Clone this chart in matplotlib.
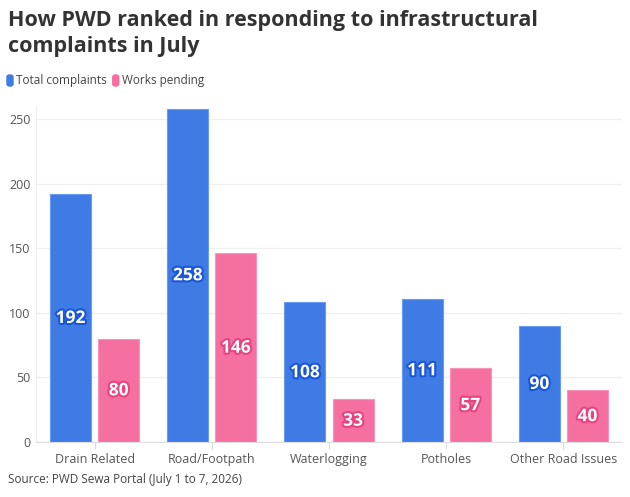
import numpy as np
import matplotlib.pyplot as plt
import matplotlib.patheffects as pe
from matplotlib.patches import FancyBboxPatch

plt.rcParams['font.family'] = ['Open Sans', 'DejaVu Sans']

categories = ["Drain Related", "Road/Footpath", "Waterlogging", "Potholes", "Other Road Issues"]
total_complaints = [192, 258, 108, 111, 90]
works_pending = [80, 146, 33, 57, 40]
series_names = ["Total complaints", "Works pending"]
yticks = [0, 50, 100, 150, 200, 250]

blue = "#3f7be5"
pink = "#f56fa1"
text_col = "#333333"

fig = plt.figure(figsize=(6.3, 4.97), dpi=100)
ax = fig.add_axes([36/630, 55/497, 586/630, (442-106)/497])

x = np.arange(len(categories))
w = 0.35
off = 0.205
b1 = ax.bar(x - off, total_complaints, w, color=blue, edgecolor="#6a9af0", linewidth=0.8)
b2 = ax.bar(x + off, works_pending, w, color=pink, edgecolor="#f894bb", linewidth=0.8)

# value labels in the middle of each bar
for bars, vals, stroke in [(b1, total_complaints, "#1a56d6"), (b2, works_pending, "#e8437f")]:
    for rect, v in zip(bars, vals):
        ax.text(rect.get_x() + rect.get_width()/2, v/2, str(v), ha="center", va="center",
                color="white", fontsize=12.5, fontweight="bold",
                path_effects=[pe.withStroke(linewidth=3, foreground=stroke)])

ax.set_xlim(-0.5, len(categories) - 0.5)
ax.set_ylim(0, 260)
ax.set_yticks(yticks)
ax.set_xticks(x)
ax.set_xticklabels(categories)
ax.tick_params(axis="y", length=0, labelsize=9, labelcolor="#555555", pad=4)
ax.tick_params(axis="x", length=5, color="#dddddd", labelsize=9, labelcolor="#555555", pad=3)
ax.grid(axis="y", color="#f0f0f0", linewidth=1)
ax.set_axisbelow(True)
for s in ["top", "right"]:
    ax.spines[s].set_visible(False)
ax.spines["left"].set_color("#eeeeee")
ax.spines["bottom"].set_color("#dddddd")

fig.text(8/630, 1 - 10/497, "How PWD ranked in responding to infrastructural\ncomplaints in July",
         fontsize=15.5, fontweight="bold", color=text_col, va="top", ha="left", linespacing=1.3)

# legend
lx = 7
for name, col in zip(series_names, [blue, pink]):
    fig.patches.append(FancyBboxPatch((lx/630, 1 - 86/497), 6/630, 11/497,
                                      boxstyle="round,pad=0,rounding_size=0.004",
                                      transform=fig.transFigure, color=col))
    t = fig.text((lx + 9)/630, 1 - 80.5/497, name, fontsize=8.5, color="#444444", va="center", ha="left")
    fig.canvas.draw()
    bb = t.get_window_extent()
    lx = bb.x1 + 6

fig.text(8/630, 1 - 480/497, "Source: PWD Sewa Portal (July 1 to 7, 2026)", fontsize=8.5,
         color="#444444", va="center", ha="left")

fig.savefig("out.png", dpi=100)
